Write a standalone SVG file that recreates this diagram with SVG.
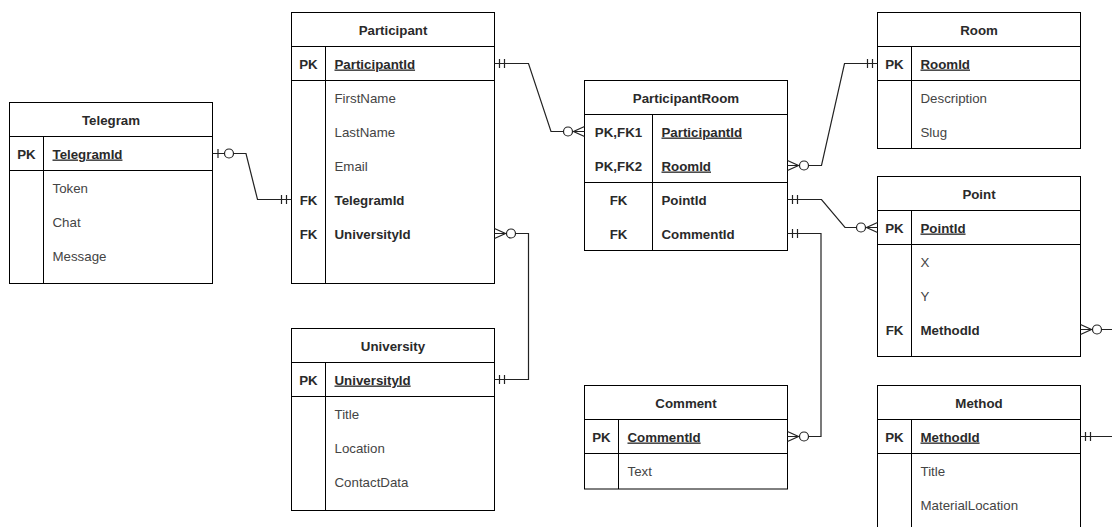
<svg xmlns="http://www.w3.org/2000/svg" width="1112" height="527" viewBox="0 0 1112 527">
  <style>
    .box { fill: #fff; stroke: #000; stroke-width: 1; }
    .sep { stroke: #000; stroke-width: 1; fill: none; }
    text { font-family: "Liberation Sans", Arial, sans-serif; font-size: 13.3px; }
    .hdr { font-weight: bold; fill: #2a2a2a; text-anchor: middle; }
    .key { font-weight: bold; fill: #2a2a2a; text-anchor: middle; }
    .kf { font-weight: bold; fill: #2a2a2a; }
    .pk { font-weight: bold; fill: #2a2a2a; text-decoration: underline; }
    .at { fill: #444; }
    .conn path { fill: none; stroke: #222; stroke-width: 1.2; }
  </style>
  <defs>
    <!-- markers point toward the entity; x=0 sits on the entity edge -->
    <marker id="mandOne" markerUnits="userSpaceOnUse" markerWidth="30" markerHeight="20" viewBox="-25 -10 30 20" refX="0" refY="0" orient="auto-start-reverse" overflow="visible">
      <path d="M-5,-4.5V4.5M-10,-4.5V4.5" stroke="#222" stroke-width="1.2" fill="none"/>
    </marker>
    <marker id="zeroOne" markerUnits="userSpaceOnUse" markerWidth="30" markerHeight="20" viewBox="-25 -10 30 20" refX="0" refY="0" orient="auto-start-reverse" overflow="visible">
      <path d="M-5.5,-4.5V4.5" stroke="#222" stroke-width="1.2" fill="none"/>
      <circle cx="-16.5" cy="0" r="4.5" fill="#fff" stroke="#222" stroke-width="1.2"/>
    </marker>
    <marker id="zeroMany" markerUnits="userSpaceOnUse" markerWidth="30" markerHeight="20" viewBox="-25 -10 30 20" refX="0" refY="0" orient="auto-start-reverse" overflow="visible">
      <path d="M0,-5L-11,0L0,5" stroke="#222" stroke-width="1.2" fill="none"/>
      <circle cx="-16.5" cy="0" r="4.5" fill="#fff" stroke="#222" stroke-width="1.2"/>
    </marker>
  </defs>

  <rect width="1112" height="527" fill="#fff"/>

  <!-- Telegram -->
  <g id="telegram">
    <rect class="box" x="9.5" y="102.5" width="203" height="181"/>
    <path class="sep" d="M9.5,136.5H212.5M9.5,170.5H212.5M43.5,136.5V283.5"/>
    <text class="hdr" x="111" y="124.5">Telegram</text>
    <text class="key" x="26.5" y="158.5">PK</text>
    <text class="pk" x="52.5" y="158.5">TelegramId</text>
    <text class="at" x="52.5" y="192.5">Token</text>
    <text class="at" x="52.5" y="226.5">Chat</text>
    <text class="at" x="52.5" y="260.5">Message</text>
  </g>

  <!-- Participant -->
  <g id="participant">
    <rect class="box" x="291.5" y="12.5" width="203" height="271"/>
    <path class="sep" d="M291.5,46.5H494.5M291.5,80.5H494.5M325.5,46.5V283.5"/>
    <text class="hdr" x="393" y="34.5">Participant</text>
    <text class="key" x="308.5" y="68.5">PK</text>
    <text class="pk" x="334.5" y="68.5">ParticipantId</text>
    <text class="at" x="334.5" y="102.5">FirstName</text>
    <text class="at" x="334.5" y="136.5">LastName</text>
    <text class="at" x="334.5" y="170.5">Email</text>
    <text class="key" x="308.5" y="204.5">FK</text>
    <text class="kf" x="334.5" y="204.5">TelegramId</text>
    <text class="key" x="308.5" y="238.5">FK</text>
    <text class="kf" x="334.5" y="238.5">UniversityId</text>
  </g>

  <!-- University -->
  <g id="university">
    <rect class="box" x="291.5" y="328.5" width="203" height="182"/>
    <path class="sep" d="M291.5,362.5H494.5M291.5,396.5H494.5M325.5,362.5V510.5"/>
    <text class="hdr" x="393" y="350.5">University</text>
    <text class="key" x="308.5" y="384.5">PK</text>
    <text class="pk" x="334.5" y="384.5">UniversityId</text>
    <text class="at" x="334.5" y="418.5">Title</text>
    <text class="at" x="334.5" y="452.5">Location</text>
    <text class="at" x="334.5" y="486.5">ContactData</text>
  </g>

  <!-- ParticipantRoom -->
  <g id="participant-room">
    <rect class="box" x="584.5" y="80.5" width="203" height="170"/>
    <path class="sep" d="M584.5,114.5H787.5M584.5,182.5H787.5M652.5,114.5V250.5"/>
    <text class="hdr" x="686" y="102.5">ParticipantRoom</text>
    <text class="key" x="618.5" y="136.5">PK,FK1</text>
    <text class="pk" x="661.5" y="136.5">ParticipantId</text>
    <text class="key" x="618.5" y="170.5">PK,FK2</text>
    <text class="pk" x="661.5" y="170.5">RoomId</text>
    <text class="key" x="618.5" y="204.5">FK</text>
    <text class="kf" x="661.5" y="204.5">PointId</text>
    <text class="key" x="618.5" y="238.5">FK</text>
    <text class="kf" x="661.5" y="238.5">CommentId</text>
  </g>

  <!-- Comment -->
  <g id="comment">
    <rect class="box" x="584.5" y="385.5" width="203" height="103.5"/>
    <path class="sep" d="M584.5,419.5H787.5M584.5,453.5H787.5M618.5,419.5V489"/>
    <text class="hdr" x="686" y="407.5">Comment</text>
    <text class="key" x="601.5" y="441.5">PK</text>
    <text class="pk" x="627.5" y="441.5">CommentId</text>
    <text class="at" x="627.5" y="475.5">Text</text>
  </g>

  <!-- Room -->
  <g id="room">
    <rect class="box" x="877.5" y="12.5" width="203" height="136"/>
    <path class="sep" d="M877.5,46.5H1080.5M877.5,80.5H1080.5M911.5,46.5V148.5"/>
    <text class="hdr" x="979" y="34.5">Room</text>
    <text class="key" x="894.5" y="68.5">PK</text>
    <text class="pk" x="920.5" y="68.5">RoomId</text>
    <text class="at" x="920.5" y="102.5">Description</text>
    <text class="at" x="920.5" y="136.5">Slug</text>
  </g>

  <!-- Point -->
  <g id="point">
    <rect class="box" x="877.5" y="176.5" width="203" height="180"/>
    <path class="sep" d="M877.5,210.5H1080.5M877.5,244.5H1080.5M911.5,210.5V356.5"/>
    <text class="hdr" x="979" y="198.5">Point</text>
    <text class="key" x="894.5" y="232.5">PK</text>
    <text class="pk" x="920.5" y="232.5">PointId</text>
    <text class="at" x="920.5" y="266.5">X</text>
    <text class="at" x="920.5" y="300.5">Y</text>
    <text class="key" x="894.5" y="334.5">FK</text>
    <text class="kf" x="920.5" y="334.5">MethodId</text>
  </g>

  <!-- Method -->
  <g id="method">
    <rect class="box" x="877.5" y="385.5" width="203" height="160"/>
    <path class="sep" d="M877.5,419.5H1080.5M877.5,453.5H1080.5M911.5,419.5V545"/>
    <text class="hdr" x="979" y="407.5">Method</text>
    <text class="key" x="894.5" y="441.5">PK</text>
    <text class="pk" x="920.5" y="441.5">MethodId</text>
    <text class="at" x="920.5" y="475.5">Title</text>
    <text class="at" x="920.5" y="509.5">MaterialLocation</text>
  </g>

  <!-- Relationships -->
  <g id="connectors" class="conn">
    <path d="M212.5,153.5H246L257.5,199.5H291.5" marker-start="url(#zeroOne)" marker-end="url(#mandOne)"/>
    <path d="M494.5,63.5H528.5L551,131.5H584.5" marker-start="url(#mandOne)" marker-end="url(#zeroMany)"/>
    <path d="M877.5,63.5H844.5L821.5,165.5H787.5" marker-start="url(#mandOne)" marker-end="url(#zeroMany)"/>
    <path d="M787.5,199.5H821.5L845,227.5H877.5" marker-start="url(#mandOne)" marker-end="url(#zeroMany)"/>
    <path d="M787.5,233.5H821V436.5H787.5" marker-start="url(#mandOne)" marker-end="url(#zeroMany)"/>
    <path d="M494.5,233.5H528.5V379.5H494.5" marker-start="url(#zeroMany)" marker-end="url(#mandOne)"/>
    <path d="M1080.5,329.5H1120" marker-start="url(#zeroMany)"/>
    <path d="M1080.5,436.5H1120" marker-start="url(#mandOne)"/>
  </g>
</svg>
